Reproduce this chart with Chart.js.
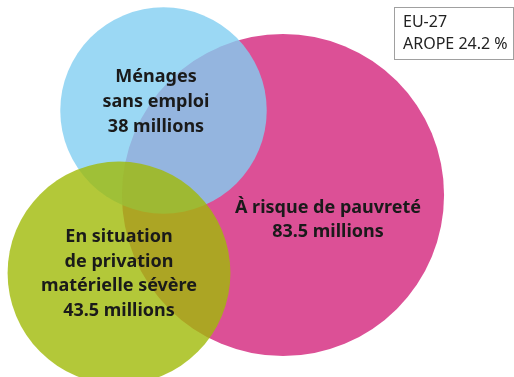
<!DOCTYPE html>
<html>
<head>
<meta charset="utf-8">
<script src="https://cdn.jsdelivr.net/npm/chart.js@4/dist/chart.umd.min.js"></script>
<style>
  html, body { margin: 0; padding: 0; background: #fff; }
  #wrap { width: 514px; height: 377px; }
</style>
</head>
<body>
<div id="wrap"><canvas id="venn"></canvas></div>
<script>
// groups (millions of people)
const groups = ['À risque de pauvreté', 'Ménages sans emploi', 'En situation de privation matérielle sévère'];
const millions = [83.5, 38, 43.5];
// circle centres in layout units
const centreX = [283, 163.5, 119];
const centreY = [195, 110.5, 273];
const colors = ['rgb(220, 80, 150)', 'rgba(130, 206, 241, 0.8)', 'rgba(160, 186, 8, 0.8)'];

const labelLines = [
    ['À risque de pauvreté', '83.5 millions'],
    ['Ménages', 'sans emploi', '38 millions'],
    ['En situation', 'de privation', 'matérielle sévère', '43.5 millions']
];
const boxLines = ['EU-27', 'AROPE 24.2 %'];

// radius from group size
function radiusFor(v) {
    return 13.22 * Math.pow(v, 0.565);
}

const labelPlugin = {
    id: 'vennLabels',
    afterDatasetsDraw(chart) {
        const ctx = chart.ctx;
        const xs = chart.scales.x, ys = chart.scales.y;
        // label anchors, offset from each circle centre
        const offsets = [[45, 25], [-7.5, -8.5], [0, 1]];
        ctx.save();
        ctx.fillStyle = '#1a1a1a';
        ctx.font = 'bold 18px "Noto Sans"';
        ctx.textAlign = 'center';
        ctx.textBaseline = 'middle';
        labelLines.forEach((lines, i) => {
            const cx = xs.getPixelForValue(centreX[i]) + offsets[i][0];
            const cy = ys.getPixelForValue(centreY[i]) + offsets[i][1];
            const top = cy - (lines.length - 1) * 24.7 / 2;
            lines.forEach((t, j) => ctx.fillText(t, cx, top + j * 24.7));
        });

        // info box, top right
        ctx.strokeStyle = '#a0a0a0';
        ctx.lineWidth = 1;
        ctx.strokeRect(394.5, 7.5, 119, 52);
        ctx.fillStyle = '#222';
        ctx.font = '16px "Noto Sans"';
        ctx.textAlign = 'left';
        ctx.fillText(boxLines[0], 403, 22);
        ctx.fillText(boxLines[1], 403, 44);
        ctx.restore();
    }
};

new Chart(document.getElementById('venn').getContext('2d'), {
    type: 'bubble',
    data: {
        labels: groups,
        datasets: [{
            data: millions.map((v, i) => ({ x: centreX[i], y: centreY[i], r: radiusFor(v) })),
            backgroundColor: colors,
            hoverBackgroundColor: colors,
            borderWidth: 0,
            hoverBorderWidth: 0,
            hoverRadius: 0,
            clip: false
        }]
    },
    options: {
        responsive: true,
        maintainAspectRatio: false,
        animation: false,
        layout: { padding: 0, autoPadding: false },
        events: [],
        scales: {
            x: { type: 'linear', min: 0, max: 514, display: false },
            y: { type: 'linear', min: 0, max: 377, reverse: true, display: false }
        },
        plugins: {
            legend: { display: false },
            tooltip: { enabled: false }
        }
    },
    plugins: [labelPlugin]
});
</script>
</body>
</html>
